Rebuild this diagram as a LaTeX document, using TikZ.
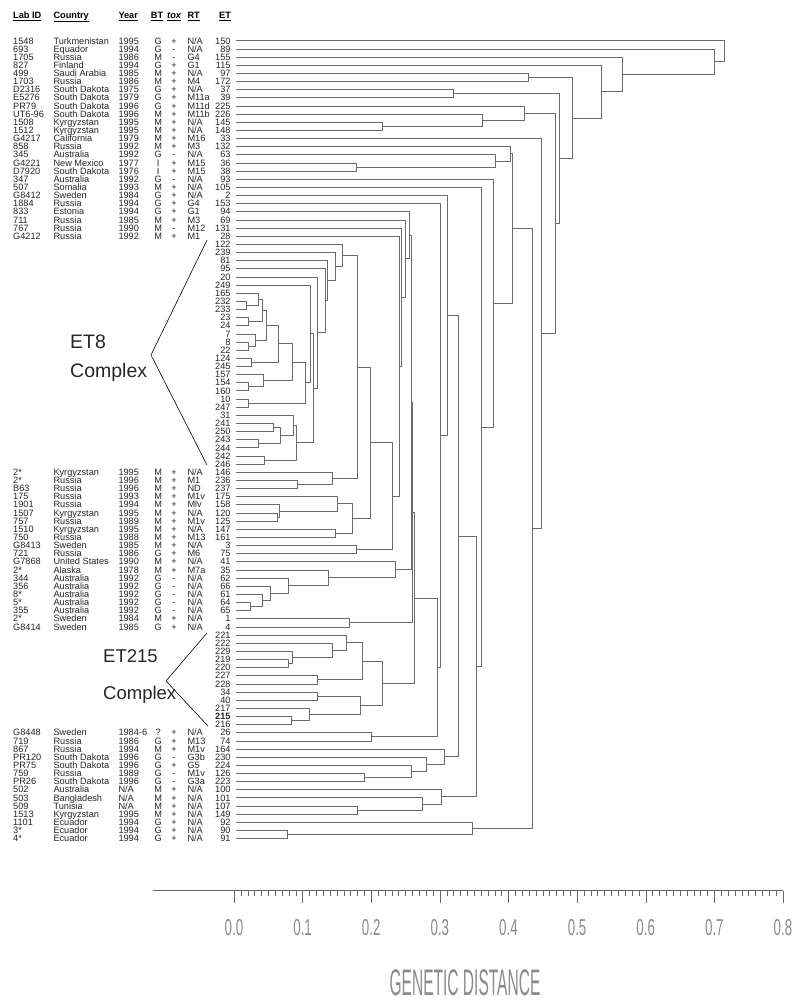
\documentclass[tikz,border=0pt]{standalone}
\usepackage{fontspec}
\setmainfont{Liberation Sans}
\usetikzlibrary{calc}
\tikzset{
  br/.style={draw=black!58, line width=0.48pt},
  tab/.style={font=\fontsize{9.2}{10}\selectfont, inner sep=0pt, text=black!85},
  head/.style={font=\fontsize{9.2}{10}\selectfont\bfseries, inner sep=0pt, anchor=base west},
  big/.style={font=\fontsize{19.5}{20}\selectfont, inner sep=0pt, anchor=base west, text=black!85},
  bigb/.style={font=\fontsize{18.5}{20}\selectfont, inner sep=0pt, anchor=base west, text=black!85},
  brk/.style={draw=black, line width=0.6pt},
  ax/.style={draw=black!60, line width=0.45pt},
  axl/.style={font=\fontsize{23}{23}\selectfont, inner sep=0pt, text=black!45},
}
\newcommand\dat[7]{%
  \node[tab,anchor=base west] (id#1) at (13,{44+(#1-1)*8.14}) {#2};
  \node[tab,anchor=base west] (co#1) at (53.3,{44+(#1-1)*8.14}) {#3};
  \node[tab,anchor=base west] (yr#1) at (118.3,{44+(#1-1)*8.14}) {#4};
  \node[tab,anchor=base] (bt#1) at (158.2,{44+(#1-1)*8.14}) {#5};
  \node[tab,anchor=base] (tx#1) at (174,{44+(#1-1)*8.14}) {#6};
  \node[tab,anchor=base west] (rt#1) at (187.3,{44+(#1-1)*8.14}) {#7};
}
\newcommand\lf[2]{%
  \node[tab,anchor=base east] (et#1) at (230.7,{44+(#1-1)*8.14}) {#2};
  \coordinate (r#1) at (236,{40.7+(#1-1)*8.14});
}
\newcommand\jn[4]{%
  \path let \p1=(#3), \p2=(#4) in ({#2pt},{0.5*\y1+0.5*\y2}) coordinate (#1);
  \draw[br] (#3) -| (#1);
  \draw[br] (#4) -| (#1);
}
\begin{document}
\begin{tikzpicture}[x=1pt,y=-1pt]
\useasboundingbox[fill=white] (0,0) rectangle (800,1002);
% headers
\node[head] (hLab) at (13,18.3) {\underline{Lab ID}};
\node[head] (hCou) at (53.3,18.3) {\underline{Country}};
\node[head] (hYea) at (118.3,18.3) {\underline{Year}};
\node[head] (hBT) at (150.7,18.3) {\underline{BT}};
\node[head] (hTox) at (167,18.3) {\underline{\itshape tox}};
\node[head] (hRT) at (187.3,18.3) {\underline{RT}};
\node[head] (hET) at (219,18.3) {\underline{ET}};
% data rows
\dat{1}{1548}{Turkmenistan}{1995}{G}{+}{N/A}
\dat{2}{693}{Equador}{1994}{G}{-}{N/A}
\dat{3}{1705}{Russia}{1986}{M}{-}{G4}
\dat{4}{827}{Finland}{1994}{G}{+}{G1}
\dat{5}{499}{Saudi Arabia}{1985}{M}{+}{N/A}
\dat{6}{1703}{Russia}{1986}{M}{+}{M4}
\dat{7}{D2316}{South Dakota}{1975}{G}{+}{N/A}
\dat{8}{E5276}{South Dakota}{1979}{G}{+}{M11a}
\dat{9}{PR79}{South Dakota}{1996}{G}{+}{M11d}
\dat{10}{UT6-96}{South Dakota}{1996}{M}{+}{M11b}
\dat{11}{1508}{Kyrgyzstan}{1995}{M}{+}{N/A}
\dat{12}{1512}{Kyrgyzstan}{1995}{M}{+}{N/A}
\dat{13}{G4217}{California}{1979}{M}{+}{M16}
\dat{14}{858}{Russia}{1992}{M}{+}{M3}
\dat{15}{345}{Australia}{1992}{G}{-}{N/A}
\dat{16}{G4221}{New Mexico}{1977}{I}{+}{M15}
\dat{17}{D7920}{South Dakota}{1976}{I}{+}{M15}
\dat{18}{347}{Australia}{1992}{G}{-}{N/A}
\dat{19}{507}{Somalia}{1993}{M}{+}{N/A}
\dat{20}{G8412}{Sweden}{1984}{G}{+}{N/A}
\dat{21}{1884}{Russia}{1994}{G}{+}{G4}
\dat{22}{833}{Estonia}{1994}{G}{+}{G1}
\dat{23}{711}{Russia}{1985}{M}{+}{M3}
\dat{24}{767}{Russia}{1990}{M}{-}{M12}
\dat{25}{G4212}{Russia}{1992}{M}{+}{M1}
\dat{54}{2*}{Kyrgyzstan}{1995}{M}{+}{N/A}
\dat{55}{2*}{Russia}{1996}{M}{+}{M1}
\dat{56}{B63}{Russia}{1996}{M}{+}{ND}
\dat{57}{175}{Russia}{1993}{M}{+}{M1v}
\dat{58}{1901}{Russia}{1994}{M}{+}{Mlv}
\dat{59}{1507}{Kyrgyzstan}{1995}{M}{+}{N/A}
\dat{60}{757}{Russia}{1989}{M}{+}{M1v}
\dat{61}{1510}{Kyrgyzstan}{1995}{M}{+}{N/A}
\dat{62}{750}{Russia}{1988}{M}{+}{M13}
\dat{63}{G8413}{Sweden}{1985}{M}{+}{N/A}
\dat{64}{721}{Russia}{1986}{G}{+}{M6}
\dat{65}{G7868}{United States}{1990}{M}{+}{N/A}
\dat{66}{2*}{Alaska}{1978}{M}{+}{M7a}
\dat{67}{344}{Australia}{1992}{G}{-}{N/A}
\dat{68}{356}{Australia}{1992}{G}{-}{N/A}
\dat{69}{8*}{Australia}{1992}{G}{-}{N/A}
\dat{70}{5*}{Australia}{1992}{G}{-}{N/A}
\dat{71}{355}{Australia}{1992}{G}{-}{N/A}
\dat{72}{2*}{Sweden}{1984}{M}{+}{N/A}
\dat{73}{G8414}{Sweden}{1985}{G}{+}{N/A}
\dat{86}{G8448}{Sweden}{1984-6}{?}{+}{N/A}
\dat{87}{719}{Russia}{1986}{G}{+}{M13}
\dat{88}{867}{Russia}{1994}{M}{+}{M1v}
\dat{89}{PR120}{South Dakota}{1996}{G}{-}{G3b}
\dat{90}{PR75}{South Dakota}{1996}{G}{+}{G5}
\dat{91}{759}{Russia}{1989}{G}{-}{M1v}
\dat{92}{PR26}{South Dakota}{1996}{G}{-}{G3a}
\dat{93}{502}{Australia}{N/A}{M}{+}{N/A}
\dat{94}{503}{Bangladesh}{N/A}{M}{+}{N/A}
\dat{95}{509}{Tunisia}{N/A}{M}{+}{N/A}
\dat{96}{1513}{Kyrgyzstan}{1995}{M}{+}{N/A}
\dat{97}{1101}{Ecuador}{1994}{G}{+}{N/A}
\dat{98}{3*}{Ecuador}{1994}{G}{+}{N/A}
\dat{99}{4*}{Ecuador}{1994}{G}{+}{N/A}
% ET leaves
\lf{1}{150}\lf{2}{89}\lf{3}{155}\lf{4}{115}\lf{5}{97}\lf{6}{172}\lf{7}{37}\lf{8}{39}
\lf{9}{225}\lf{10}{226}\lf{11}{145}\lf{12}{148}\lf{13}{33}\lf{14}{132}\lf{15}{63}
\lf{16}{36}\lf{17}{38}\lf{18}{93}\lf{19}{105}\lf{20}{2}\lf{21}{153}\lf{22}{94}
\lf{23}{69}\lf{24}{131}\lf{25}{28}\lf{26}{122}\lf{27}{239}\lf{28}{81}\lf{29}{95}
\lf{30}{20}\lf{31}{249}\lf{32}{165}\lf{33}{232}\lf{34}{233}\lf{35}{23}\lf{36}{24}
\lf{37}{7}\lf{38}{8}\lf{39}{22}\lf{40}{124}\lf{41}{245}\lf{42}{157}\lf{43}{154}
\lf{44}{160}\lf{45}{10}\lf{46}{247}\lf{47}{31}\lf{48}{241}\lf{49}{250}\lf{50}{243}
\lf{51}{244}\lf{52}{242}\lf{53}{246}\lf{54}{146}\lf{55}{236}\lf{56}{237}\lf{57}{175}
\lf{58}{158}\lf{59}{120}\lf{60}{125}\lf{61}{147}\lf{62}{161}\lf{63}{3}\lf{64}{75}
\lf{65}{41}\lf{66}{35}\lf{67}{62}\lf{68}{66}\lf{69}{61}\lf{70}{64}\lf{71}{65}
\lf{72}{1}\lf{73}{4}\lf{74}{221}\lf{75}{222}\lf{76}{229}\lf{77}{219}\lf{78}{220}
\lf{79}{227}\lf{80}{228}\lf{81}{34}\lf{82}{40}\lf{83}{217}\lf{84}{\bfseries 215}\lf{85}{216}
\lf{86}{26}\lf{87}{74}\lf{88}{164}\lf{89}{230}\lf{90}{224}\lf{91}{126}\lf{92}{223}
\lf{93}{100}\lf{94}{101}\lf{95}{107}\lf{96}{149}\lf{97}{92}\lf{98}{90}\lf{99}{91}
% complexes
\node[big] (et8a) at (70,348.5) {ET8};
\node[big] (et8b) at (70,377.5) {Complex};
\coordinate (k8t) at (207,240);
\coordinate (k8a) at (151,355);
\coordinate (k8b) at (207,465);
\draw[brk] (k8t) -- (k8a) -- (k8b);
\node[bigb] (e215a) at (103,662) {ET215};
\node[bigb] (e215b) at (103,699) {Complex};
\coordinate (k2t) at (207,633);
\coordinate (k2a) at (166,681);
\coordinate (k2b) at (208,726);
\draw[brk] (k2t) -- (k2a) -- (k2b);
% tree
\jn{n145}{382}{r11}{r12}
\jn{n226}{482.7}{r10}{n145}
\jn{G}{524}{r9}{n226}
\jn{n36}{356}{r16}{r17}
\jn{n63}{495.7}{r15}{n36}
\jn{n132}{510.3}{r14}{n63}
\jn{n97}{528}{r5}{r6}
\jn{n37}{453.3}{r7}{r8}
\jn{a232}{246.7}{r33}{r34}
\jn{b165}{258.3}{r32}{a232}
\jn{c23}{248.7}{r35}{r36}
\jn{d8}{248.7}{r38}{r39}
\jn{e7}{255.3}{r37}{d8}
\jn{g1}{262.7}{b165}{c23}
\jn{h1}{266}{g1}{e7}
\jn{i124}{251.3}{r40}{r41}
\jn{h2}{278.3}{h1}{i124}
\jn{j154}{248.7}{r43}{r44}
\jn{k157}{263.3}{r42}{j154}
\jn{m1}{292.3}{h2}{k157}
\jn{n10}{248.7}{r45}{r46}
\jn{o1}{305.7}{m1}{n10}
\jn{p1}{310}{r31}{o1}
\jn{q241}{273.3}{r48}{r49}
\jn{s243}{258.3}{r50}{r51}
\jn{s1}{280}{q241}{s243}
\jn{t31}{293.3}{r47}{s1}
\jn{u242}{264}{r52}{r53}
\jn{v1}{296}{t31}{u242}
\jn{w1}{313.3}{p1}{v1}
\jn{x1}{317.7}{r30}{w1}
\jn{x2}{325}{r29}{x1}
\jn{x3}{327.3}{r28}{x2}
\jn{x4}{335}{r27}{x3}
\jn{x5}{342.3}{r26}{x4}
\jn{n236}{297.3}{r55}{r56}
\jn{n146}{332.7}{r54}{n236}
\jn{V}{357.3}{x5}{n146}
\jn{n120}{277.3}{r59}{r60}
\jn{n158}{279.3}{r58}{n120}
\jn{n175}{337.3}{r57}{n158}
\jn{n147}{335}{r61}{r62}
\jn{n175b}{352.3}{n175}{n147}
\jn{W}{370.7}{V}{n175b}
\jn{n3}{356.7}{r63}{r64}
\jn{X}{392.3}{W}{n3}
\jn{X1}{399.3}{r25}{X}
\jn{X2}{401.7}{r24}{X1}
\jn{X3}{405.7}{r23}{X2}
\jn{X4}{409.5}{r22}{X3}
\jn{n64}{250.7}{r70}{r71}
\jn{n61}{262.3}{r69}{n64}
\jn{n66}{270}{r68}{n61}
\jn{n62}{288.3}{r67}{n66}
\jn{n35}{328.3}{r66}{n62}
\jn{n41}{395.7}{r65}{n35}
\jn{Z}{411}{X4}{n41}
\jn{n1}{349.3}{r72}{r73}
\jn{Q}{412.5}{Z}{n1}
\jn{t219}{288.7}{r77}{r78}
\jn{t229}{292.3}{r76}{t219}
\jn{t222}{332.7}{r75}{t229}
\jn{t221}{346}{r74}{t222}
\jn{t227}{317.7}{r79}{r80}
\jn{tA}{362.3}{t221}{t227}
\jn{t34}{317.7}{r81}{r82}
\jn{t215}{291.7}{r84}{r85}
\jn{t217}{309}{r83}{t215}
\jn{tB}{360.7}{t34}{t217}
\jn{E215}{382.3}{tA}{tB}
\jn{M1}{414}{Q}{E215}
\jn{n26}{371.7}{r86}{r87}
\jn{S2}{437.7}{M1}{n26}
\jn{S}{440}{r21}{S2}
\jn{T}{447.7}{r20}{S}
\jn{n126}{364}{r91}{r92}
\jn{n224}{411}{r90}{n126}
\jn{n230}{426}{r89}{n224}
\jn{K1}{444.3}{r88}{n230}
\jn{U1}{458.3}{T}{K1}
\jn{n107}{357.3}{r95}{r96}
\jn{n101}{422.3}{r94}{n107}
\jn{K2}{441.7}{r93}{n101}
\jn{U2}{476.7}{U1}{K2}
\jn{P}{481.5}{r19}{U2}
\jn{L}{493.3}{r18}{P}
\jn{J}{512.3}{n132}{L}
\jn{n90}{287.3}{r98}{r99}
\jn{K}{472.3}{r97}{n90}
\jn{I}{532.3}{J}{K}
\jn{H}{541}{r13}{I}
\jn{F}{555.3}{G}{H}
\jn{E}{559}{n37}{F}
\jn{D}{572}{n97}{E}
\jn{C}{601}{r4}{D}
\jn{B}{622}{r3}{C}
\jn{A}{714}{r2}{B}
\jn{root}{724}{r1}{A}
% axis
\coordinate (axL) at (153,890.5);
\coordinate (axR) at (783,890.5);
\draw[ax] (axL) -- (axR);
\foreach \i in {0,...,80} {\draw[ax] ({234+6.8625*\i},890.5) -- ++(0,5);}
\foreach \i in {0,...,8} {
  \draw[ax] ({234+68.625*\i},890.5) -- ++(0,12);
  \node[axl] (tl\i) at ({234+68.625*\i},928) {\scalebox{0.58}[1]{0.\i}};
}
\node[font=\fontsize{37}{37}\selectfont, inner sep=0pt, text=black!45] (gd) at (465,983) {\scalebox{0.42}[1]{GENETIC DISTANCE}};
\end{tikzpicture}
\end{document}
